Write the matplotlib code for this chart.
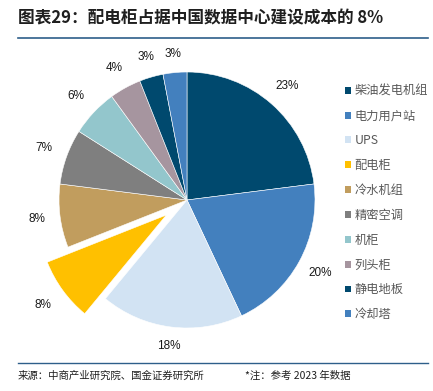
import numpy as np
import matplotlib.pyplot as plt
from matplotlib.patches import Patch
from matplotlib.lines import Line2D

plt.rcParams['font.family'] = ['Noto Sans CJK SC', 'DejaVu Sans']

labels = ['柴油发电机组', '电力用户站', 'UPS', '配电柜', '冷水机组',
          '精密空调', '机柜', '列头柜', '静电地板', '冷却塔']
shares = [23, 20, 18, 8, 8, 7, 6, 4, 3, 3]
colors = ['#00496E', '#4380BE', '#D2E3F3', '#FFC000', '#C19D5E',
          '#7F7F7F', '#93C6CC', '#A6959F', '#00496E', '#4380BE']
explode = [0, 0, 0, 0.2, 0, 0, 0, 0, 0, 0]

fig = plt.figure(figsize=(4.33, 3.91), dpi=100)

# pie axes: centre at (187, 200) px, radius 128 px
R = 128
half = 150
ax = fig.add_axes([(187 - half) / 433, (391 - 200 - half) / 391,
                   2 * half / 433, 2 * half / 391])
lim = half / R
wedges, _, autotexts = ax.pie(
    shares, colors=colors, explode=explode, startangle=90, counterclock=False,
    autopct='%d%%', pctdistance=1.19,
    wedgeprops=dict(edgecolor='white', linewidth=0.4),
    textprops=dict(fontsize=8.5, color='#1a1a1a', family=['Liberation Sans']))

# place labels like excel: box sits a fixed gap outside the rim
gap, hw, hh = 12 / R, 11 / R, 6 / R
for w, t, ex in zip(wedges, autotexts, explode):
    a = np.deg2rad((w.theta1 + w.theta2) / 2)
    ux, uy = np.cos(a), np.sin(a)
    d = 1 + ex + gap + abs(ux) * hw + abs(uy) * hh
    t.set_position((d * ux, d * uy))

ax.set_xlim(-lim, lim)
ax.set_ylim(-lim, lim)
ax.axis('off')

handles = [Patch(facecolor=c, edgecolor='none') for c in colors]
leg = fig.legend(handles, labels, loc='upper left', bbox_to_anchor=(345 / 433, 1 - 84.5 / 391),
                 frameon=False, fontsize=8.8, handlelength=0.5, handleheight=0.5,
                 handletextpad=0.3, labelspacing=0.97, borderpad=0, borderaxespad=0)
for t in leg.get_texts():
    t.set_color('#595959')

# title and rules
fig.text(18 / 433, 1 - 18 / 391, '图表29：配电柜占据中国数据中心建设成本的 8%',
         fontsize=12, fontweight='bold', color='#1F1F1F', va='center', ha='left')
fig.add_artist(Line2D([18 / 433, 428 / 433], [1 - 38 / 391, 1 - 38 / 391],
                      color='#2E5F8A', linewidth=1.2))
fig.add_artist(Line2D([18 / 433, 428 / 433], [1 - 363 / 391, 1 - 363 / 391],
                      color='#2E5F8A', linewidth=1.0))
fig.text(18 / 433, 1 - 376 / 391, '来源：中商产业研究院、国金证券研究所',
         fontsize=7.5, color='#1F1F1F', va='center', ha='left')
fig.text(245 / 433, 1 - 376 / 391, '*注：参考 2023 年数据',
         fontsize=7.5, color='#1F1F1F', va='center', ha='left')

fig.savefig('out.png', dpi=100)
